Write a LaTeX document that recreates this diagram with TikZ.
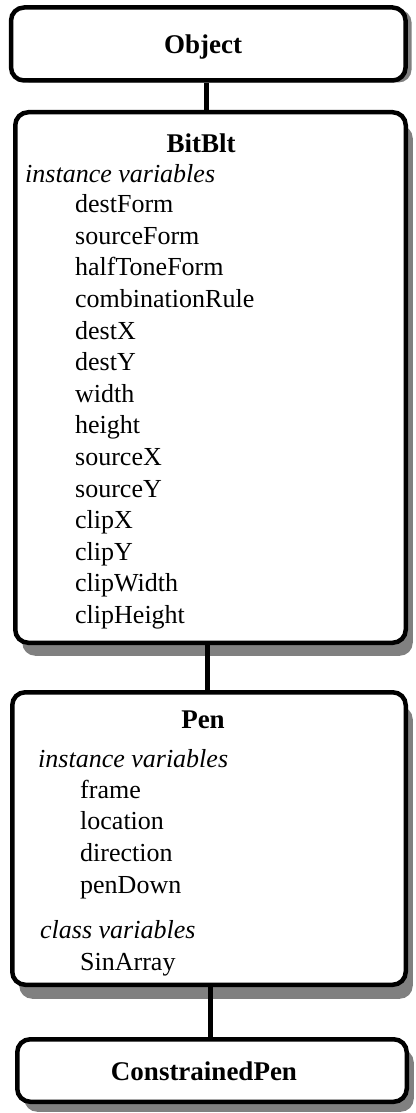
\documentclass[tikz,border=0pt]{standalone}
\usepackage{fontspec}
\setmainfont{Liberation Serif}
\usetikzlibrary{shadows}
\tikzset{
  classbox/.style={draw=black, line width=4.5pt, rounded corners=13pt, fill=white, inner sep=0pt},
  boxshade/.style 2 args={general shadow={fill=black!50, shadow xshift=#1, shadow yshift=#2}},
  title/.style={anchor=base, inner sep=0pt, font=\fontsize{27}{32}\selectfont\bfseries},
  head/.style={anchor=base west, inner sep=0pt, font=\fontsize{26}{31}\selectfont\itshape},
  item/.style={anchor=base west, inner sep=0pt, font=\fontsize{26}{31}\selectfont},
  link/.style={line width=5pt},
}
\begin{document}
\begin{tikzpicture}[x=1pt, y=-1pt]
\useasboundingbox (0,0) rectangle (415,1113);

% boxes
\node[classbox, boxshade={6pt}{-2pt}, minimum width=394.5pt, minimum height=73pt] (obj) at (208.3,44) {};
\node[classbox, boxshade={7pt}{-13pt}, minimum width=390.5pt, minimum height=530.5pt] (bitblt) at (210.5,377.5) {};
\node[classbox, boxshade={7pt}{-14pt}, minimum width=393.5pt, minimum height=292.5pt] (pen) at (209,838.5) {};
\node[classbox, boxshade={7pt}{-10pt}, minimum width=389.5pt, minimum height=62.5pt] (cpen) at (212,1070.5) {};

% connectors
\draw[link] ([xshift=-2pt]obj.south) -- ([xshift=-2pt]obj.south |- bitblt.north);
\draw[link] ([xshift=-3pt]bitblt.south) -- ([xshift=-3pt]bitblt.south |- pen.north);
\draw[link] ([xshift=1pt]pen.south) -- ([xshift=1pt]pen.south |- cpen.north);

% Object
\node[title] (tobj) at (203,54) {Object};

% BitBlt
\node[title] (tbit) at (201,152) {BitBlt};
\node[head] (hbit) at (25,182) {instance variables};
\foreach \t [count=\i from 0] in {destForm,sourceForm,halfToneForm,combinationRule,destX,destY,width,height,sourceX,sourceY,clipX,clipY,clipWidth,clipHeight}
  \node[item] (bv\i) at (75,212.7+31.6*\i) {\t};

% Pen
\node[title] (tpen) at (203,728) {Pen};
\node[head] (hpen) at (38,767) {instance variables};
\foreach \t [count=\i from 0] in {frame,location,direction,penDown}
  \node[item] (pv\i) at (80,798+31.7*\i) {\t};
\node[head] (hpenc) at (40,938) {class variables};
\node[item] (pc0) at (80,970) {SinArray};

% ConstrainedPen
\node[title] (tcpen) at (204,1080) {ConstrainedPen};
\end{tikzpicture}
\end{document}
